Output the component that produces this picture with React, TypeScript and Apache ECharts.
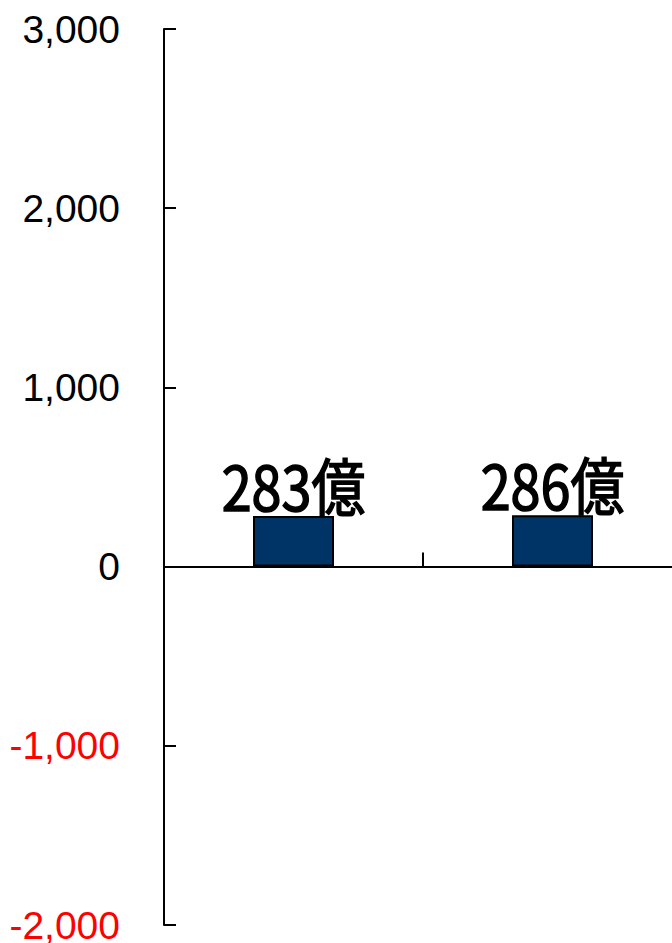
import React, { useEffect, useRef } from "react";
import * as echarts from "echarts";

const categories = ["A", "B"];
const values = [283, 286];
const valueLabels = ["283億", "286億"];
const yMin = -2000;
const yMax = 3000;
const yInterval = 1000;

export default function App() {
  const ref = useRef<HTMLDivElement>(null);
  useEffect(() => {
    if (!ref.current) return;
    const chart = echarts.init(ref.current, undefined, { renderer: "svg" });
    chart.setOption({
      animation: false,
      grid: {
        left: 164,
        width: 518,
        top: 29,
        bottom: 18,
        containLabel: false,
        outerBoundsMode: "none",
      },
      xAxis: {
        type: "category",
        data: categories,
        axisLine: { onZero: true, lineStyle: { color: "#000", width: 2 } },
        axisTick: { show: true, inside: true, length: 14, lineStyle: { color: "#000", width: 2 } },
        axisLabel: { show: false },
        splitLine: { show: false },
      },
      yAxis: {
        type: "value",
        min: yMin,
        max: yMax,
        interval: yInterval,
        axisLine: { show: true, lineStyle: { color: "#000", width: 2 } },
        axisTick: { show: true, inside: true, length: 12, lineStyle: { color: "#000", width: 2 } },
        splitLine: { show: false },
        axisLabel: {
          margin: 44,
          fontSize: 39,
          lineHeight: 30,
          fontFamily: "Liberation Sans, Arial, sans-serif",
          formatter: (v: number) => v.toLocaleString("en-US"),
          color: (v: any) => (Number(v) < 0 ? "#ff0000" : "#000000"),
        },
      },
      series: [
        {
          type: "bar",
          data: values,
          barWidth: 81,
          itemStyle: { color: "#003366", borderColor: "#000", borderWidth: 2 },
        },
        {
          type: "custom",
          data: values.map((v, i) => [i, v]),
          z: 5,
          renderItem: (params: any, api: any) => {
            const pt = api.coord([api.value(0), api.value(1)]);
            return {
              type: "text",
              x: pt[0],
              y: pt[1] - 32,
              scaleX: 0.87,
              style: {
                text: valueLabels[params.dataIndex],
                align: "center",
                verticalAlign: "middle",
                fontFamily: "Noto Sans CJK JP, sans-serif",
                fontWeight: "normal",
                fontSize: 62,
                fill: "#000",
                stroke: "#000",
                lineWidth: 1.6,
              },
            };
          },
        },
      ],
    });
    return () => chart.dispose();
  }, []);
  return (
    <div
      ref={ref}
      style={{ position: "fixed", left: 0, top: 0, width: 672, height: 943, background: "#fff" }}
    />
  );
}
